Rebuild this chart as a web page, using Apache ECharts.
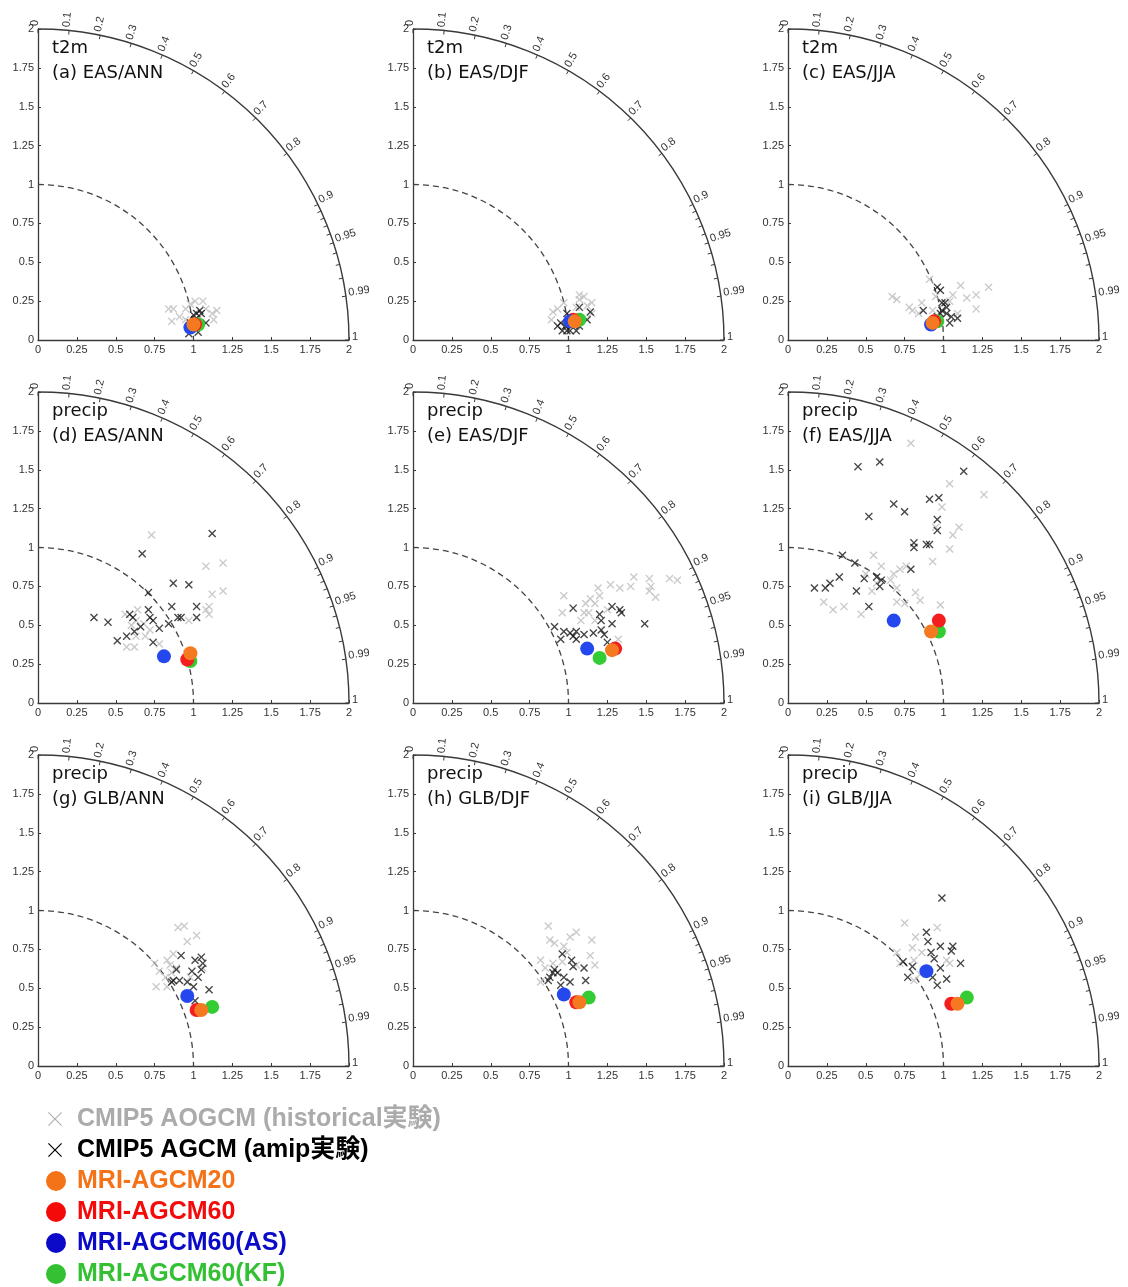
<!DOCTYPE html>
<html><head><meta charset="utf-8">
<script src="https://cdn.jsdelivr.net/npm/echarts@6/dist/echarts.min.js"></script>
<style>html,body{margin:0;padding:0;background:#fff}#chart{width:1128px;height:1287px}</style>
</head><body><div id="chart"></div>
<script>
// ---------- data ----------
const panelVars = ['t2m','t2m','t2m','precip','precip','precip','precip','precip','precip'];
const panelNames = ['(a) EAS/ANN','(b) EAS/DJF','(c) EAS/JJA','(d) EAS/ANN','(e) EAS/DJF','(f) EAS/JJA','(g) GLB/ANN','(h) GLB/DJF','(i) GLB/JJA'];
const stdMin = 0, stdMax = 2, stdStep = 0.25;
const refStd = 1;
const corrLabels = [0,0.1,0.2,0.3,0.4,0.5,0.6,0.7,0.8,0.9,0.95,0.99,1];
const corrMinor = [0.91,0.92,0.93,0.94,0.96,0.97,0.98];
const seriesNames = ['CMIP5 AOGCM (historical実験)','CMIP5 AGCM (amip実験)','MRI-AGCM20','MRI-AGCM60','MRI-AGCM60(AS)','MRI-AGCM60(KF)'];

// points as [x, y] in normalized-std units, one list per panel (a..i)
const aogcm = [
 [[0.84,0.20],[0.87,0.20],[0.95,0.20],[1.01,0.25],[1.06,0.25],[1.15,0.19],[1.12,0.17],[0.86,0.12],[0.91,0.15],[1.08,0.20],[1.13,0.13],[0.95,0.13],[0.98,0.23],[1.04,0.15]],
 [[1.07,0.29],[1.10,0.28],[1.15,0.24],[0.90,0.18],[0.97,0.24],[0.89,0.13],[1.05,0.21],[1.15,0.17],[1.07,0.26],[0.93,0.20],[1.12,0.22]],
 [[0.67,0.28],[0.70,0.26],[0.78,0.21],[0.80,0.19],[0.86,0.24],[0.91,0.39],[0.95,0.28],[0.93,0.19],[1.06,0.29],[1.11,0.35],[1.15,0.27],[1.21,0.29],[1.21,0.20],[1.29,0.34],[1.09,0.17],[1.04,0.25],[0.84,0.17]],
 [[0.73,1.08],[1.08,0.88],[1.19,0.90],[1.12,0.70],[1.19,0.72],[1.10,0.62],[1.10,0.57],[0.97,0.53],[0.56,0.57],[0.64,0.60],[0.68,0.51],[0.69,0.43],[0.63,0.43],[0.57,0.36],[0.62,0.36],[0.78,0.38],[0.72,0.47],[0.63,0.53],[0.60,0.50],[1.08,0.60]],
 [[1.42,0.81],[1.52,0.80],[1.65,0.80],[1.70,0.79],[1.53,0.75],[1.52,0.72],[1.56,0.68],[1.27,0.76],[1.33,0.74],[1.40,0.75],[1.19,0.74],[1.20,0.69],[0.97,0.69],[1.14,0.67],[1.11,0.64],[1.17,0.64],[0.96,0.58],[1.10,0.58],[1.13,0.58],[1.08,0.53],[1.17,0.53],[1.25,0.60],[1.32,0.41]],
 [[0.79,1.67],[1.04,1.41],[1.26,1.34],[0.99,1.26],[1.10,1.13],[1.06,1.08],[0.95,1.13],[1.04,0.99],[0.93,0.91],[0.55,0.95],[0.60,0.88],[0.68,0.83],[0.72,0.86],[0.66,0.79],[0.50,0.83],[0.54,0.72],[0.57,0.77],[0.82,0.71],[0.85,0.66],[0.70,0.65],[0.75,0.64],[0.98,0.63],[0.23,0.65],[0.29,0.60],[0.36,0.62],[0.47,0.57],[0.70,0.74],[0.76,0.88]],
 [[0.90,0.89],[0.94,0.90],[1.02,0.84],[0.96,0.80],[0.87,0.72],[0.83,0.68],[0.85,0.65],[0.75,0.66],[0.78,0.61],[0.82,0.57],[0.76,0.51],[0.83,0.51],[0.89,0.63],[0.98,0.57],[1.06,0.63],[0.86,0.60]],
 [[0.87,0.90],[1.01,0.83],[1.05,0.86],[1.15,0.81],[0.88,0.81],[0.91,0.79],[0.97,0.77],[1.14,0.71],[1.17,0.65],[0.82,0.68],[0.85,0.63],[0.82,0.54],[0.96,0.67],[0.99,0.73],[1.05,0.65],[0.90,0.66]],
 [[0.75,0.92],[0.96,0.89],[0.82,0.83],[0.80,0.76],[0.70,0.73],[0.72,0.66],[0.81,0.68],[0.86,0.73],[1.02,0.68],[1.04,0.66],[0.81,0.55],[0.85,0.59]]
];
const agcm = [
 [[1.04,0.19],[1.02,0.17],[1.00,0.16],[1.05,0.17],[0.98,0.11],[1.08,0.11],[0.97,0.04],[1.03,0.05],[0.99,0.09],[1.01,0.13]],
 [[1.07,0.21],[1.14,0.18],[0.99,0.17],[1.01,0.15],[0.95,0.11],[0.93,0.09],[0.98,0.09],[0.96,0.06],[0.99,0.06],[1.07,0.09],[1.12,0.13],[1.02,0.10],[1.05,0.06],[1.01,0.06]],
 [[0.96,0.34],[0.98,0.32],[0.87,0.19],[0.99,0.24],[1.01,0.24],[0.99,0.19],[1.02,0.21],[1.05,0.15],[1.09,0.14],[1.02,0.17],[0.98,0.17],[0.96,0.15],[1.04,0.11]],
 [[1.12,1.09],[0.67,0.96],[0.87,0.77],[0.97,0.76],[0.71,0.71],[0.86,0.62],[1.02,0.62],[1.02,0.55],[0.92,0.55],[0.71,0.60],[0.36,0.55],[0.45,0.52],[0.59,0.57],[0.61,0.55],[0.74,0.53],[0.66,0.49],[0.78,0.48],[0.84,0.51],[0.62,0.46],[0.57,0.43],[0.51,0.40],[0.74,0.39],[0.90,0.55],[0.72,0.55]],
 [[1.03,0.61],[1.28,0.62],[1.33,0.60],[1.34,0.58],[1.49,0.51],[1.20,0.57],[1.21,0.53],[1.28,0.51],[0.91,0.49],[1.21,0.47],[1.23,0.44],[0.97,0.46],[1.01,0.45],[1.05,0.46],[1.03,0.43],[0.95,0.41],[1.16,0.45],[1.10,0.44],[1.25,0.39],[1.05,0.41]],
 [[0.45,1.52],[0.59,1.55],[1.13,1.49],[0.68,1.28],[0.75,1.23],[0.52,1.20],[0.91,1.31],[0.97,1.32],[0.96,1.18],[0.96,1.11],[0.81,1.03],[0.81,1.00],[0.89,1.02],[0.91,1.02],[0.35,0.95],[0.43,0.90],[0.79,0.86],[0.33,0.81],[0.49,0.80],[0.57,0.81],[0.60,0.79],[0.27,0.77],[0.24,0.74],[0.17,0.74],[0.44,0.72],[0.59,0.75],[0.52,0.62]],
 [[0.92,0.71],[1.05,0.70],[1.01,0.68],[1.06,0.66],[1.05,0.62],[0.89,0.62],[0.99,0.61],[1.03,0.57],[0.91,0.55],[0.86,0.54],[0.96,0.54],[1.00,0.51],[1.10,0.49],[1.01,0.42],[0.87,0.55]],
 [[0.96,0.72],[1.02,0.68],[1.03,0.64],[1.10,0.63],[0.91,0.62],[0.93,0.60],[0.88,0.57],[0.97,0.57],[1.01,0.54],[1.11,0.55],[0.87,0.55],[0.95,0.52],[0.90,0.60]],
 [[0.99,1.08],[0.89,0.86],[0.90,0.80],[0.98,0.77],[1.06,0.77],[1.05,0.74],[0.92,0.73],[1.11,0.66],[0.74,0.67],[0.80,0.64],[0.98,0.63],[0.77,0.57],[0.93,0.57],[1.02,0.56],[0.96,0.52],[0.94,0.69]]
];
const mri20   = [[1.00,0.10],[1.04,0.12],[0.93,0.11],[0.98,0.32],[1.28,0.34],[0.92,0.46],[1.05,0.36],[1.07,0.41],[1.09,0.40]];
const mri60   = [[1.01,0.10],[1.03,0.13],[0.94,0.12],[0.96,0.28],[1.30,0.35],[0.97,0.53],[1.02,0.36],[1.05,0.41],[1.05,0.40]];
const mri60as = [[0.98,0.08],[1.01,0.12],[0.92,0.10],[0.81,0.30],[1.12,0.35],[0.68,0.53],[0.96,0.45],[0.97,0.46],[0.89,0.61]];
const mri60kf = [[1.03,0.10],[1.07,0.13],[0.96,0.12],[0.98,0.27],[1.20,0.29],[0.97,0.46],[1.12,0.38],[1.13,0.44],[1.15,0.44]];

// ---------- layout / style ----------
const colLeft = [38, 413, 788];
const rowBottom = [340, 703, 1066];
const SIZE = 311;
const CROSS = 'path://M0,12L12,0L50,38L88,0L100,12L62,50L100,88L88,100L50,62L12,100L0,88L38,50Z';
const CROSS_THIN = 'path://M0,6L6,0L50,44L94,0L100,6L56,50L100,94L94,100L50,56L6,100L0,94L44,50Z';
const C_GRAY = '#bdbdbd', C_BLACK = '#161616', C_OR = '#f47920', C_RED = '#f51e1e', C_BLUE = '#2448ee', C_GREEN = '#33cc33';
const AX = '#3a3a3a';
const FONT = "'Liberation Sans', Arial, sans-serif";

const grids = [], xAxes = [], yAxes = [], titles = [], series = [];

function frameRenderer(params, api) {
  const o = api.coord([0, 0]);
  const R = api.coord([stdMax, 0])[0] - o[0];
  const r1 = api.coord([refStd, 0])[0] - o[0];
  const ch = [
    {type:'arc', shape:{cx:o[0], cy:o[1], r:R, startAngle:-Math.PI/2, endAngle:0, clockwise:true}, style:{fill:'none', stroke:AX, lineWidth:1.4}},
    {type:'arc', shape:{cx:o[0], cy:o[1], r:r1, startAngle:-Math.PI/2, endAngle:0, clockwise:true}, style:{fill:'none', stroke:'#444', lineWidth:1.3, lineDash:[6,4]}}
  ];
  corrLabels.concat(corrMinor).forEach(c => {
    const t = Math.acos(c);
    ch.push({type:'line', shape:{x1:o[0]+R*Math.cos(t), y1:o[1]-R*Math.sin(t), x2:o[0]+(R-4)*Math.cos(t), y2:o[1]-(R-4)*Math.sin(t)}, style:{stroke:AX, lineWidth:1}});
  });
  corrLabels.forEach(c => {
    const t = Math.acos(c);
    const rr = R + 3, p = 3;
    ch.push({type:'text', x:o[0]+rr*Math.cos(t)-p*Math.sin(t), y:o[1]-rr*Math.sin(t)-p*Math.cos(t), rotation:t,
      style:{text:String(c), fontSize:11, fontFamily:FONT, fill:'#333', align:'left', verticalAlign:'middle'}});
  });
  return {type:'group', children:ch};
}

for (let i = 0; i < 9; i++) {
  const c = i % 3, r = Math.floor(i / 3);
  grids.push({left:colLeft[c], top:rowBottom[r]-SIZE, width:SIZE, height:SIZE});
  const axisCommon = {
    type:'value', gridIndex:i, min:stdMin, max:stdMax, interval:stdStep,
    axisLine:{show:true, onZero:false, lineStyle:{color:AX, width:1.3}},
    axisTick:{show:true, inside:true, length:3, lineStyle:{color:AX}},
    axisLabel:{fontSize:11, color:'#333', fontFamily:FONT, margin:4},
    splitLine:{show:false}
  };
  xAxes.push(Object.assign({}, axisCommon, {position:'bottom'}));
  yAxes.push(Object.assign({}, axisCommon, {position:'left'}));
  titles.push({text:panelVars[i] + '\n' + panelNames[i], left:colLeft[c]+14, top:rowBottom[r]-304, padding:0,
    textStyle:{fontSize:18, fontWeight:'normal', color:'#111', fontFamily:"'DejaVu Sans', sans-serif", lineHeight:25}});
  series.push({type:'custom', xAxisIndex:i, yAxisIndex:i, data:[[0,0]], renderItem:frameRenderer, silent:true, z:1});
  series.push({name:seriesNames[0], type:'scatter', xAxisIndex:i, yAxisIndex:i, data:aogcm[i], symbol:CROSS, symbolSize:8, itemStyle:{color:C_GRAY}, z:2, silent:true});
  series.push({name:seriesNames[1], type:'scatter', xAxisIndex:i, yAxisIndex:i, data:agcm[i], symbol:CROSS, symbolSize:8, itemStyle:{color:C_BLACK}, z:3, silent:true});
  series.push({name:seriesNames[5], type:'scatter', xAxisIndex:i, yAxisIndex:i, data:[mri60kf[i]], symbol:'circle', symbolSize:14, itemStyle:{color:C_GREEN, opacity:1}, z:4, silent:true});
  series.push({name:seriesNames[3], type:'scatter', xAxisIndex:i, yAxisIndex:i, data:[mri60[i]], symbol:'circle', symbolSize:14, itemStyle:{color:C_RED, opacity:1}, z:5, silent:true});
  series.push({name:seriesNames[4], type:'scatter', xAxisIndex:i, yAxisIndex:i, data:[mri60as[i]], symbol:'circle', symbolSize:14, itemStyle:{color:C_BLUE, opacity:1}, z:6, silent:true});
  series.push({name:seriesNames[2], type:'scatter', xAxisIndex:i, yAxisIndex:i, data:[mri20[i]], symbol:'circle', symbolSize:14, itemStyle:{color:C_OR, opacity:1}, z:7, silent:true});
}

const legendText = {fontSize:25, fontWeight:'bold', fontFamily:"'Liberation Sans', Arial, 'Noto Sans CJK JP', sans-serif", lineHeight:26};
const option = {
  backgroundColor:'#fff',
  animation:false,
  title:titles,
  grid:grids, xAxis:xAxes, yAxis:yAxes,
  legend:[
    {orient:'vertical', left:48, top:1106, padding:0, itemWidth:14, itemHeight:14, itemGap:5, selectedMode:false,
     textStyle:Object.assign({}, legendText, {padding:[0,0,0,10]}),
     data:[
      {name:seriesNames[0], icon:CROSS_THIN, itemStyle:{color:'#b0b0b0', opacity:1}, textStyle:{color:'#ababab'}},
      {name:seriesNames[1], icon:CROSS_THIN, itemStyle:{color:'#000', opacity:1}, textStyle:{color:'#000'}}
     ]},
    {orient:'vertical', left:46, top:1168, padding:0, itemWidth:20, itemHeight:20, itemGap:5, selectedMode:false,
     textStyle:Object.assign({}, legendText, {padding:[0,0,0,6]}),
     data:[
      {name:seriesNames[2], icon:'circle', itemStyle:{color:'#f57318', opacity:1}, textStyle:{color:'#f57318'}},
      {name:seriesNames[3], icon:'circle', itemStyle:{color:'#f50a0a', opacity:1}, textStyle:{color:'#f50a0a'}},
      {name:seriesNames[4], icon:'circle', itemStyle:{color:'#0a0ac8', opacity:1}, textStyle:{color:'#0a0ac8'}},
      {name:seriesNames[5], icon:'circle', itemStyle:{color:'#33c033', opacity:1}, textStyle:{color:'#33c033'}}
     ]}
  ],
  series:series
};
const chart = echarts.init(document.getElementById('chart'), null, {renderer:'canvas'});
chart.setOption(option);
</script>
</body></html>
